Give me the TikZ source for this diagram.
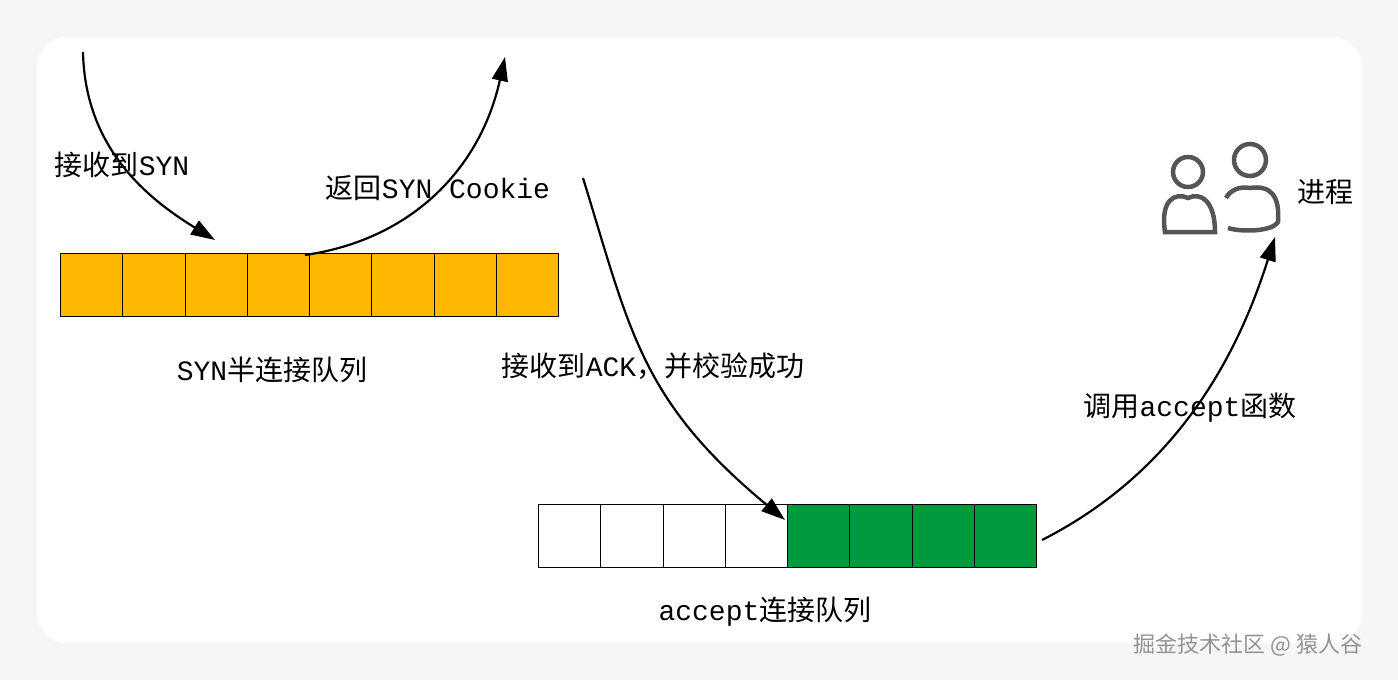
\documentclass[tikz,border=0pt]{standalone}
\usepackage{fontspec}
\setmainfont{Liberation Mono}
\newfontfamily\cj{Noto Sans CJK SC}
\usetikzlibrary{arrows.meta}
\definecolor{org}{HTML}{FFB800}
\definecolor{grn}{HTML}{009A3E}
\definecolor{ico}{HTML}{555555}
\begin{document}
\begin{tikzpicture}[x=1pt,y=-1pt,
 cell/.style={draw=black,line width=1pt,minimum width=62.25pt,minimum height=63pt,inner sep=0pt,anchor=north west},
 arr/.style={line width=2.2pt,-{Triangle[length=24pt,width=16pt]}},
 lab/.style={font=\fontsize{28}{28}\selectfont,inner sep=0pt}]
\useasboundingbox (0,0) rectangle (1398,680);
\fill[gray!7] (0,0) rectangle (1398,680);
\fill[white,rounded corners=30pt] (37,37) rectangle (1362,643);
\foreach \i in {0,...,7}{\node[cell,fill=org] (o\i) at ({60+62.25*\i},253) {};}
\foreach \i in {0,...,3}{\node[cell,fill=white] (w\i) at ({538+62.25*\i},504) {};}
\foreach \i in {4,...,7}{\node[cell,fill=grn] (g\i) at ({538+62.25*\i},504) {};}
\coordinate (s1) at (83,52);
\coordinate (e1) at (215,240);
\draw[arr] (s1) .. controls (85,150) and (150,200) .. (e1);
\coordinate (s2) at (305,255);
\coordinate (e2) at (505,57);
\draw[arr] (s2) .. controls (410,240) and (480,170) .. (e2);
\coordinate (s3) at (583,178);
\coordinate (e3) at (785,520);
\draw[arr] (s3) .. controls (630,330) and (640,400) .. (e3);
\coordinate (s4) at (1042,540);
\coordinate (e4) at (1275,237);
\draw[arr] (s4) .. controls (1160,480) and (1230,380) .. (e4);
\node[lab] (l1) at (122,165) {{\cj 接收到}SYN};
\node[lab] (l2) at (438,188) {{\cj 返回}SYN Cookie};
\node[lab] (l3) at (272,370) {SYN{\cj 半连接队列}};
\node[lab] (l4) at (653,366) {{\cj 接收到}ACK{\cj ，并校验成功}};
\node[lab] (l5) at (1190,408) {{\cj 调用}accept{\cj 函数}};
\node[lab] (l6) at (765,612) {accept{\cj 连接队列}};
\node[lab] (l7) at (1325,192) {\cj 进程};
\node[font=\cj\fontsize{22}{22}\selectfont,text=gray!85,inner sep=0pt] (wm) at (1248,645) {掘金技术社区 @ 猿人谷};
\begin{scope}[draw=ico,line width=4.5pt]
\draw (1188,172) circle (15);
\draw (1165,232) .. controls (1160,200) and (1175,192) .. (1188,198) .. controls (1200,192) and (1215,200) .. (1215,232) -- cycle;
\draw (1250,160) circle (16);
\draw (1228,228) .. controls (1240,232) and (1272,232) .. (1278,222) .. controls (1280,195) and (1270,185) .. (1250,188) .. controls (1240,186) and (1230,190) .. (1226,198);
\end{scope}
\end{tikzpicture}
\end{document}
